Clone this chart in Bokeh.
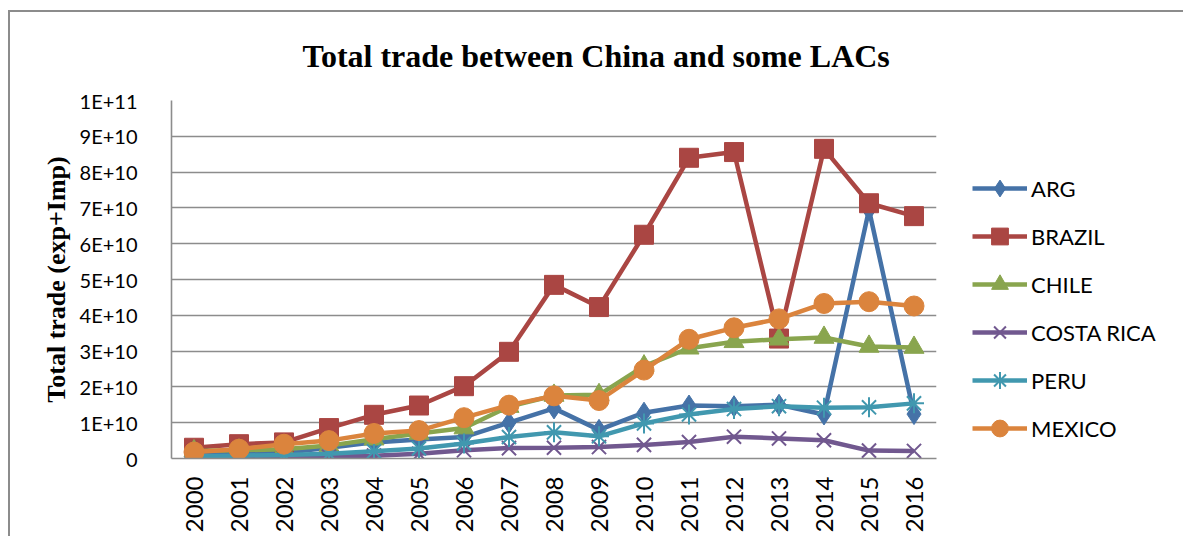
from bokeh.plotting import figure
from bokeh.models import (FactorRange, Range1d, FixedTicker, Legend, LegendItem, Title)
from bokeh.embed import file_html
from bokeh.resources import INLINE
import math

years = [str(y) for y in range(2000, 2017)]
series_names = ["ARG", "BRAZIL", "CHILE", "COSTA RICA", "PERU", "MEXICO"]
arg = [1.5e9, 1.5e9, 1.6e9, 3.0e9, 4.5e9, 5.3e9, 6.0e9, 10.0e9, 14.0e9, 8.0e9, 12.8e9, 14.8e9, 14.6e9, 15.0e9, 12.3e9, 69.5e9, 12.4e9]
brazil = [3.0e9, 4.0e9, 4.5e9, 8.5e9, 12.2e9, 14.8e9, 20.2e9, 29.8e9, 48.5e9, 42.3e9, 62.5e9, 84.0e9, 85.6e9, 33.5e9, 86.5e9, 71.3e9, 67.7e9]
chile = [2.1e9, 2.3e9, 2.6e9, 3.6e9, 5.4e9, 7.0e9, 8.5e9, 14.5e9, 17.6e9, 17.8e9, 25.8e9, 30.8e9, 32.6e9, 33.3e9, 33.8e9, 31.3e9, 31.0e9]
costa_rica = [0.1e9, 0.2e9, 0.3e9, 0.5e9, 0.8e9, 1.3e9, 2.3e9, 2.9e9, 3.0e9, 3.2e9, 3.8e9, 4.6e9, 6.1e9, 5.6e9, 5.1e9, 2.2e9, 2.1e9]
peru = [0.6e9, 0.8e9, 1.0e9, 1.3e9, 2.0e9, 2.8e9, 4.2e9, 6.0e9, 7.3e9, 6.2e9, 9.8e9, 12.3e9, 13.8e9, 14.6e9, 14.2e9, 14.3e9, 15.4e9]
mexico = [1.8e9, 2.6e9, 4.0e9, 5.0e9, 7.0e9, 7.8e9, 11.4e9, 14.9e9, 17.5e9, 16.2e9, 24.7e9, 33.3e9, 36.5e9, 39.0e9, 43.3e9, 43.8e9, 42.6e9]
y_ticks = [0, 1e10, 2e10, 3e10, 4e10, 5e10, 6e10, 7e10, 8e10, 9e10, 1e11]
y_tick_labels = ["0", "1E+10", "2E+10", "3E+10", "4E+10", "5E+10", "6E+10", "7E+10", "8E+10", "9E+10", "1E+11"]

series_values = [arg, brazil, chile, costa_rica, peru, mexico]
colors = ["#4572A7", "#AA4643", "#89A54E", "#71588F", "#4198AF", "#DB843D"]
markers = ["diamond", "square", "triangle", "x", "asterisk", "circle"]
sizes = [21, 19, 20, 20, 20, 20]

p = figure(x_range=FactorRange(factors=years), y_range=Range1d(0, 1e11),
           frame_width=765, frame_height=358,
           min_border_left=161, min_border_right=244, min_border_top=88, min_border_bottom=78,
           output_backend="svg", toolbar_location=None)
p.styles = {"margin-left": "8px", "margin-top": "10px",
            "border-left": "2px solid #8c8c8c", "border-top": "2px solid #8c8c8c"}
p.outline_line_color = None
p.background_fill_color = "white"
p.border_fill_color = "white"

p.xgrid.grid_line_color = None
p.ygrid.grid_line_color = "#8c8c8c"
p.ygrid.grid_line_width = 1.6

p.yaxis.ticker = FixedTicker(ticks=y_ticks)
p.yaxis.major_label_overrides = {t: l for t, l in zip(y_ticks, y_tick_labels)}
for ax in (p.xaxis[0], p.yaxis[0]):
    ax.axis_line_color = "#8c8c8c"
    ax.axis_line_width = 1.6
    ax.major_tick_out = 0
    ax.major_tick_in = 0
    ax.minor_tick_out = 0
    ax.minor_tick_in = 0
    ax.major_label_text_font = "Lato"
    ax.major_label_text_color = "black"

p.yaxis.major_label_text_font_size = "20px"
p.yaxis.major_label_standoff = 34
p.yaxis.axis_label = "Total trade (exp+Imp)"
p.yaxis.axis_label_text_font = "Liberation Serif"
p.yaxis.axis_label_text_font_style = "bold"
p.yaxis.axis_label_text_font_size = "26px"
p.yaxis.axis_label_text_color = "black"
p.yaxis.axis_label_standoff = 6

p.xaxis.major_label_text_font_size = "24px"
p.xaxis.major_label_orientation = math.pi / 2
p.xaxis.major_label_standoff = 18

items = []
for name, vals, c, m, s in zip(series_names, series_values, colors, markers, sizes):
    r1 = p.line(years, vals, line_color=c, line_width=4.5)
    if m in ("x", "asterisk"):
        r2 = p.scatter(years, vals, marker=m, size=s, line_color=c, line_width=2, fill_color=None)
    else:
        r2 = p.scatter(years, vals, marker=m, size=s, line_color=c, fill_color=c, line_width=1)
    items.append(LegendItem(label=name, renderers=[r1, r2]))

legend = Legend(items=items, location=(36, 9), orientation="vertical",
                glyph_width=55, glyph_height=42, spacing=6, padding=0, margin=0,
                label_standoff=4, label_text_font="Lato", label_text_font_size="22px",
                label_text_color="black", label_text_baseline="middle",
                border_line_color=None, background_fill_alpha=0)
p.add_layout(legend, "right")

title = Title(text="Total trade between China and some LACs", align="left", offset=131,
              vertical_align="top",
              text_font="Liberation Serif", text_font_style="bold", text_font_size="32px",
              text_color="black", standoff=50)
p.add_layout(title, "above")

open("out.html", "w").write(file_html(p, INLINE))
